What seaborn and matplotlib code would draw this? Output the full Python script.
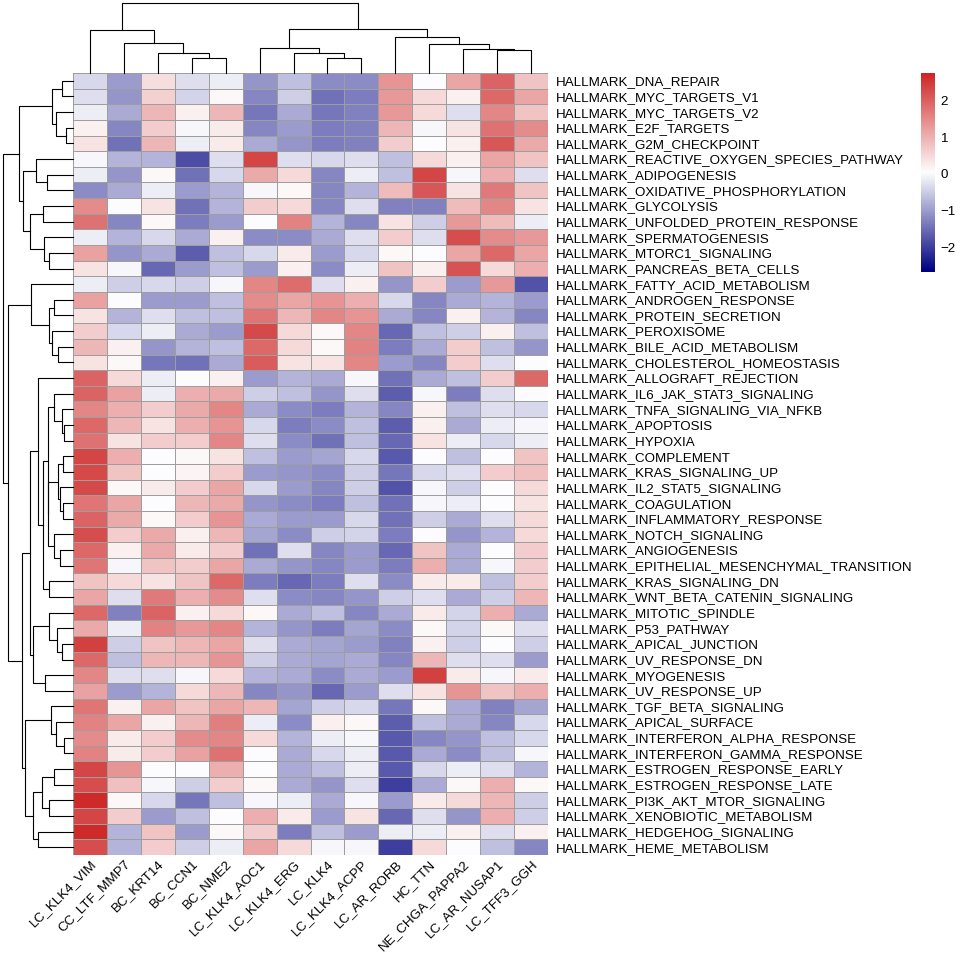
import numpy as np
import pandas as pd
import matplotlib
matplotlib.use("Agg")
import matplotlib.pyplot as plt
from matplotlib.colors import LinearSegmentedColormap
import seaborn as sns

# ---- data -------------------------------------------------------------
col_names = ["LC_KLK4_VIM", "CC_LTF_MMP7", "BC_KRT14", "BC_CCN1", "BC_NME2",
             "LC_KLK4_AOC1", "LC_KLK4_ERG", "LC_KLK4", "LC_KLK4_ACPP",
             "LC_AR_RORB", "HC_TTN", "NE_CHGA_PAPPA2", "LC_AR_NUSAP1",
             "LC_TFF3_GGH"]

row_names = ["HALLMARK_" + s for s in [
    "DNA_REPAIR", "MYC_TARGETS_V1", "MYC_TARGETS_V2", "E2F_TARGETS",
    "G2M_CHECKPOINT", "REACTIVE_OXYGEN_SPECIES_PATHWAY", "ADIPOGENESIS",
    "OXIDATIVE_PHOSPHORYLATION", "GLYCOLYSIS", "UNFOLDED_PROTEIN_RESPONSE",
    "SPERMATOGENESIS", "MTORC1_SIGNALING", "PANCREAS_BETA_CELLS",
    "FATTY_ACID_METABOLISM", "ANDROGEN_RESPONSE", "PROTEIN_SECRETION",
    "PEROXISOME", "BILE_ACID_METABOLISM", "CHOLESTEROL_HOMEOSTASIS",
    "ALLOGRAFT_REJECTION", "IL6_JAK_STAT3_SIGNALING", "TNFA_SIGNALING_VIA_NFKB",
    "APOPTOSIS", "HYPOXIA", "COMPLEMENT", "KRAS_SIGNALING_UP",
    "IL2_STAT5_SIGNALING", "COAGULATION", "INFLAMMATORY_RESPONSE",
    "NOTCH_SIGNALING", "ANGIOGENESIS", "EPITHELIAL_MESENCHYMAL_TRANSITION",
    "KRAS_SIGNALING_DN", "WNT_BETA_CATENIN_SIGNALING", "MITOTIC_SPINDLE",
    "P53_PATHWAY", "APICAL_JUNCTION", "UV_RESPONSE_DN", "MYOGENESIS",
    "UV_RESPONSE_UP", "TGF_BETA_SIGNALING", "APICAL_SURFACE",
    "INTERFERON_ALPHA_RESPONSE", "INTERFERON_GAMMA_RESPONSE",
    "ESTROGEN_RESPONSE_EARLY", "ESTROGEN_RESPONSE_LATE",
    "PI3K_AKT_MTOR_SIGNALING", "XENOBIOTIC_METABOLISM", "HEDGEHOG_SIGNALING",
    "HEME_METABOLISM"]]

scores = [
    [-0.35, -1.0, 0.45, -0.3, -0.15, -1.05, -0.65, -1.2, -1.2, 1.35, 0.0, 1.15, 1.95, 0.75],
    [-0.3, -1.05, 0.6, -0.4, 0.1, -1.25, -0.5, -1.45, -1.35, 1.3, 0.5, 0.2, 1.9, 1.15],
    [-0.15, -0.85, 0.95, 0.2, 0.95, -1.4, -0.85, -1.4, -1.3, 1.3, 0.5, -0.3, 1.5, 0.75],
    [0.25, -1.25, 0.65, -0.05, 0.3, -1.25, -1.0, -1.35, -1.3, 0.95, -0.05, 0.4, 1.8, 1.45],
    [0.4, -1.45, 0.95, -0.15, 0.3, -0.85, -1.05, -1.35, -1.3, 0.65, 0.0, 0.25, 2.1, 1.1],
    [-0.03, -0.75, -0.75, -1.85, -0.3, 2.35, -0.3, -0.35, -0.3, -0.65, 0.5, 0.2, 1.15, 0.75],
    [-0.15, -1.05, 0.1, -1.45, -0.35, 1.1, 0.5, -1.25, -0.15, -0.65, 2.35, -0.05, 1.05, -0.3],
    [-1.2, -0.85, -0.15, -1.0, -0.75, -0.03, 0.1, -1.25, -0.75, 0.85, 2.1, 0.4, 1.7, 0.75],
    [1.45, 0.0, 0.4, -1.45, -0.75, 0.65, 0.5, -1.25, -0.3, -1.3, -1.3, 0.85, 1.5, 0.4],
    [1.8, -1.25, 0.1, -1.35, -1.0, 0.0, 1.55, -0.75, -1.25, 0.4, -0.5, 1.3, 0.85, -0.15],
    [-0.15, -0.75, -0.35, -0.85, 0.2, -1.2, -1.2, -0.85, -0.3, 0.65, -0.3, 2.25, 1.45, 1.3],
    [1.2, -1.1, -0.85, -1.65, -0.65, -0.35, 0.3, -1.0, -0.35, 0.1, 0.0, 1.15, 1.9, 1.15],
    [0.4, -0.05, -1.55, -1.0, -0.65, -1.0, 0.25, -1.2, -0.15, 0.75, 0.25, 2.15, 0.5, 1.05],
    [-0.15, -0.5, -0.35, -0.5, -0.05, 1.5, 1.85, -0.3, 0.25, -1.05, 0.65, -1.0, 1.3, -1.8],
    [1.2, 0.0, -1.0, -1.0, -0.65, 1.45, 1.15, 1.35, 1.05, -0.35, -1.25, -0.85, -0.75, -1.0],
    [0.4, -0.75, -0.3, -0.65, -0.65, 1.75, 0.95, 1.5, 1.35, -0.85, -1.25, 0.25, -0.75, -1.25],
    [0.65, -0.35, -0.15, -0.85, -1.0, 2.3, 0.5, 0.1, 1.5, -1.55, -0.65, -0.5, 0.25, -0.65],
    [0.95, 0.2, -1.05, -0.75, -0.65, 1.9, 0.5, 0.1, 1.55, -1.35, -0.85, 0.65, -0.65, -1.05],
    [0.4, 0.1, -1.4, -1.45, -0.85, 2.05, 0.4, 0.4, 1.5, -1.0, -1.25, 0.65, -0.3, 0.0],
    [1.95, 0.5, -0.15, 0.0, 0.2, -1.0, -0.75, -0.85, -0.05, -1.45, -0.85, -0.65, 0.65, 1.9],
    [1.95, 1.2, -0.15, 1.05, 1.1, -0.5, -0.65, -1.1, -0.3, -1.65, -0.05, -1.35, -0.3, 0.0],
    [1.5, 1.05, 0.65, 1.1, 1.5, -0.85, -1.2, -1.35, -0.75, -1.25, 0.25, -0.65, -0.3, -0.35],
    [1.9, 0.95, 0.4, 1.05, 1.35, -0.35, -1.35, -1.2, -0.65, -1.65, 0.25, -0.85, -0.15, -0.05],
    [1.8, 0.4, 0.65, 0.65, 1.5, -0.3, -1.2, -1.45, -0.65, -1.55, 0.4, -0.15, -0.35, -0.15],
    [2.35, 1.05, 0.0, 0.1, 0.4, -0.65, -1.0, -0.9, -0.35, -1.75, 0.0, -0.65, 0.0, 0.75],
    [2.3, 0.75, 0.0, 0.15, 0.65, -1.0, -1.05, -1.2, -0.5, -1.4, -0.35, -0.3, 0.65, 0.8],
    [2.3, 0.1, 0.3, 0.65, 1.15, -0.35, -1.0, -1.25, -0.5, -1.8, -0.05, -0.5, 0.0, 0.5],
    [1.75, 1.15, 0.0, 0.95, 1.1, -1.05, -1.2, -1.35, -0.65, -1.45, -0.05, -0.15, 0.0, 0.4],
    [1.95, 1.1, 0.1, 0.65, 1.35, -0.85, -1.0, -1.0, -0.35, -1.45, -0.5, -0.85, -0.3, 0.5],
    [2.25, 0.65, 1.1, 0.2, 0.95, -0.9, -1.2, -0.5, -0.4, -1.35, 0.0, -1.1, -0.75, 0.5],
    [1.9, 0.2, 1.1, 0.3, 0.65, -1.45, -0.3, -1.25, -1.0, -1.55, 0.75, -0.85, 0.0, 0.65],
    [1.75, -0.05, 0.75, 0.65, 1.15, -0.85, -1.05, -1.25, -1.0, -1.35, 1.05, -0.85, -0.05, 0.65],
    [0.75, 0.5, 0.4, 0.75, 1.9, -1.35, -1.55, -1.35, -0.3, -1.2, 0.3, 0.3, -0.65, 0.65],
    [1.15, -0.3, 1.7, 1.05, 1.45, -0.3, -1.2, -1.25, -1.1, -0.5, -0.3, -0.85, -0.5, 0.95],
    [1.9, -1.3, 1.95, 0.2, 0.5, 0.1, -0.85, -0.65, -1.25, -0.85, 0.3, -0.4, 1.05, -0.85],
    [1.1, -0.15, 1.55, 1.3, 1.5, -0.75, -1.05, -1.35, -0.9, -1.2, 0.1, -0.4, 0.1, -0.3],
    [2.4, -0.5, 0.75, 0.95, 1.15, -0.3, -0.85, -0.9, -1.0, -1.3, 0.2, -0.5, 0.0, -0.5],
    [1.9, -0.65, 0.95, 0.95, 1.35, -0.5, -0.85, -0.9, -0.85, -1.25, 0.95, -0.3, -0.3, -1.0],
    [1.5, -0.3, -0.3, -0.05, 0.5, -0.75, -0.85, -1.2, -0.85, -1.0, 2.4, 0.3, -0.05, 0.3],
    [1.2, -1.0, -0.75, 0.5, 0.95, -1.25, -1.05, -1.55, -1.0, -0.3, 0.4, 1.35, 0.75, 1.05],
    [1.75, 0.2, 1.15, 0.75, 1.15, 0.95, -0.9, -0.5, -0.35, -1.4, 0.1, -0.85, -1.3, -0.9],
    [1.55, 1.15, 0.2, 0.95, 1.65, -0.15, -1.2, 0.2, 0.1, -1.65, -0.65, -0.85, -1.25, -0.35],
    [1.45, 0.3, 0.65, 1.45, 1.5, 0.5, -0.75, -0.15, -0.05, -1.75, -1.25, -1.1, -0.65, -0.35],
    [1.6, 0.3, 0.65, 1.2, 1.8, 0.0, -0.85, -0.35, -0.15, -1.7, -0.85, -1.2, -0.65, -0.03],
    [2.35, 1.35, 0.0, 0.0, 1.05, 0.0, -0.85, -0.65, -0.15, -1.75, -0.35, -0.15, -0.3, -0.75],
    [2.25, 0.8, -0.05, -0.5, 0.65, 0.1, -0.85, -1.05, -0.3, -2.0, -0.85, 0.1, 1.05, 0.1],
    [2.65, 0.1, -0.35, -1.4, -0.65, -0.03, -0.15, -0.85, -0.03, -1.0, 0.3, 0.5, 0.95, -0.5],
    [2.35, 0.65, -1.0, -0.65, 0.0, 1.05, 0.3, -1.0, 0.4, -1.55, -0.3, -1.05, 1.05, -0.5],
    [2.65, -0.75, 0.75, -1.0, 0.1, 0.65, -1.35, -0.65, -1.0, -0.15, -0.15, 0.25, -0.3, 0.25],
    [2.25, -0.75, 0.65, -0.5, -0.15, 1.15, 0.5, -0.03, -0.03, -2.0, 0.5, 0.0, -0.65, -1.25],
]

# dendrogram merges: (left child, right child, height); leaves are 0..n-1
col_merges = [
    (3, 4, 15.0), (2, 14, 20.0), (1, 15, 29.3), (0, 16, 42.7),
    (7, 8, 15.0), (6, 18, 20.0), (5, 19, 25.0),
    (12, 13, 22.7), (11, 21, 24.0), (10, 22, 28.3), (9, 23, 35.3),
    (20, 24, 43.7), (17, 25, 69.3),
]

row_merges = [
    (0, 1, 11.0), (3, 4, 7.0), (2, 51, 17.0), (50, 52, 21.0),
    (6, 7, 26.0), (5, 54, 37.0), (8, 9, 29.4), (11, 12, 23.7),
    (10, 57, 28.7), (56, 58, 42.7), (55, 59, 49.4), (53, 60, 53.4),
    (17, 18, 14.4), (16, 62, 21.0), (14, 15, 18.4), (64, 63, 23.7),
    (13, 65, 42.0),
    (22, 23, 8.4), (21, 67, 11.0), (20, 68, 18.7), (24, 25, 10.0),
    (27, 28, 9.4), (26, 71, 12.7), (70, 72, 14.4), (30, 31, 12.7),
    (29, 74, 18.4), (73, 75, 24.4), (69, 76, 25.2), (32, 33, 24.2),
    (77, 78, 29.4), (19, 79, 34.4),
    (36, 37, 10.4), (35, 81, 15.4), (34, 82, 23.7), (38, 39, 27.7),
    (83, 84, 39.4), (80, 85, 42.7),
    (42, 43, 8.7), (41, 87, 17.0), (40, 88, 22.0), (44, 45, 18.7),
    (46, 47, 23.7), (90, 91, 31.0), (48, 49, 34.4), (92, 93, 39.4),
    (89, 94, 47.7), (86, 95, 51.0), (66, 96, 64.4), (61, 97, 69.4),
]


def draw_dendrogram(ax, merges, n, orientation):
    pos = {i: i + 0.5 for i in range(n)}
    hgt = {i: 0.0 for i in range(n)}
    for k, (a, b, h) in enumerate(merges):
        xs = [pos[a], pos[a], pos[b], pos[b]]
        ys = [hgt[a], h, h, hgt[b]]
        if orientation == "top":
            ax.plot(xs, ys, color="black", lw=0.8, clip_on=False)
        else:
            ax.plot(ys, xs, color="black", lw=0.8, clip_on=False)
        pos[n + k] = (pos[a] + pos[b]) / 2
        hgt[n + k] = h
    ax.set_axis_off()


df = pd.DataFrame(scores, index=row_names, columns=col_names)

cmap = LinearSegmentedColormap.from_list("nwf", ["#000080", "#FFFFFF", "#CD2626"], N=100)
vmin, vmax = -2.67, 2.74

fig = plt.figure(figsize=(9.6, 9.6), dpi=100)
plt.rcParams["font.family"] = ["Liberation Sans", "DejaVu Sans"]
W = H = 960.0


def px_axes(x0, y0, x1, y1):
    return fig.add_axes([x0 / W, 1 - y1 / H, (x1 - x0) / W, (y1 - y0) / H])


ax_heat = px_axes(73, 73, 548, 855)
sns.heatmap(df, cmap=cmap, vmin=vmin, vmax=vmax, linewidths=0.5,
            linecolor="#9E9E9E", cbar=False, ax=ax_heat,
            xticklabels=col_names, yticklabels=row_names)
ax_heat.yaxis.tick_right()
ax_heat.tick_params(axis="y", length=0, pad=6, labelsize=9.6, labelrotation=0)
ax_heat.tick_params(axis="x", length=0, pad=2, labelsize=9.6)
for lab in ax_heat.get_yticklabels():
    lab.set_ha("left")
for lab in ax_heat.get_xticklabels():
    lab.set_rotation(45)
    lab.set_ha("right")
    lab.set_va("top")
    lab.set_rotation_mode("anchor")
ax_heat.set_xlabel("")
ax_heat.set_ylabel("")

ax_col = px_axes(73, 0, 548, 72.7)
draw_dendrogram(ax_col, col_merges, len(col_names), "top")
ax_col.set_xlim(0, len(col_names))
ax_col.set_ylim(0, 72.7)

ax_row = px_axes(0, 73, 72.7, 855)
draw_dendrogram(ax_row, row_merges, len(row_names), "left")
ax_row.set_ylim(len(row_names), 0)
ax_row.set_xlim(72.7, 0)

ax_cb = px_axes(921, 73, 935, 272)
sm = plt.cm.ScalarMappable(cmap=cmap, norm=plt.Normalize(vmin, vmax))
cb = fig.colorbar(sm, cax=ax_cb, ticks=[-2, -1, 0, 1, 2])
cb.outline.set_visible(False)
cb.ax.tick_params(length=0, pad=4, labelsize=9.6)
cb.ax.set_yticklabels(["\u22122", "\u22121", "0", "1", "2"])

fig.savefig("out.png", dpi=100)
